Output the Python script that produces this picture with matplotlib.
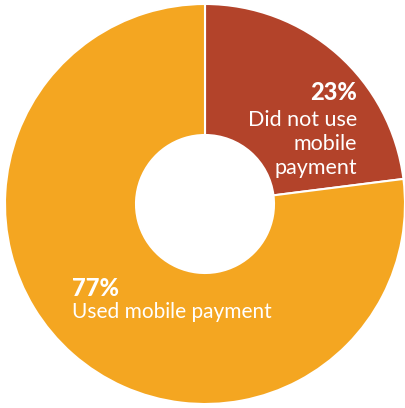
import matplotlib.pyplot as plt

labels = ["Did not use mobile payment", "Used mobile payment"]
shares = [23, 77]
colors = ["#B3432A", "#F4A621"]

fig = plt.figure(figsize=(4.06, 4.08), dpi=100)
ax = fig.add_axes([0, 0, 1, 1])
ax.pie(shares, colors=colors, startangle=90, counterclock=False,
       radius=1.0, center=(0, 0),
       wedgeprops=dict(width=0.655, edgecolor="white", linewidth=1.5))
ax.set_xlim(-1.025, 1.005)
ax.set_ylim(-1.02, 1.02)
ax.set_aspect("equal")
ax.axis("off")

font = "Lato"
# 23% label
ax.text(0.76, 0.555, f"{shares[0]}%", ha="right", va="center",
        fontsize=17, fontweight="black", color="white", family=font)
ax.text(0.76, 0.3, "Did not use\nmobile\npayment", ha="right", va="center",
        fontsize=15.5, color="white", family=font, linespacing=1.22,
        multialignment="right")
# 77% label
ax.text(-0.665, -0.425, f"{shares[1]}%", ha="left", va="center",
        fontsize=17, fontweight="black", color="white", family=font)
ax.text(-0.665, -0.54, "Used mobile payment", ha="left", va="center",
        fontsize=15, color="white", family=font)

fig.savefig("out.png", dpi=100)
